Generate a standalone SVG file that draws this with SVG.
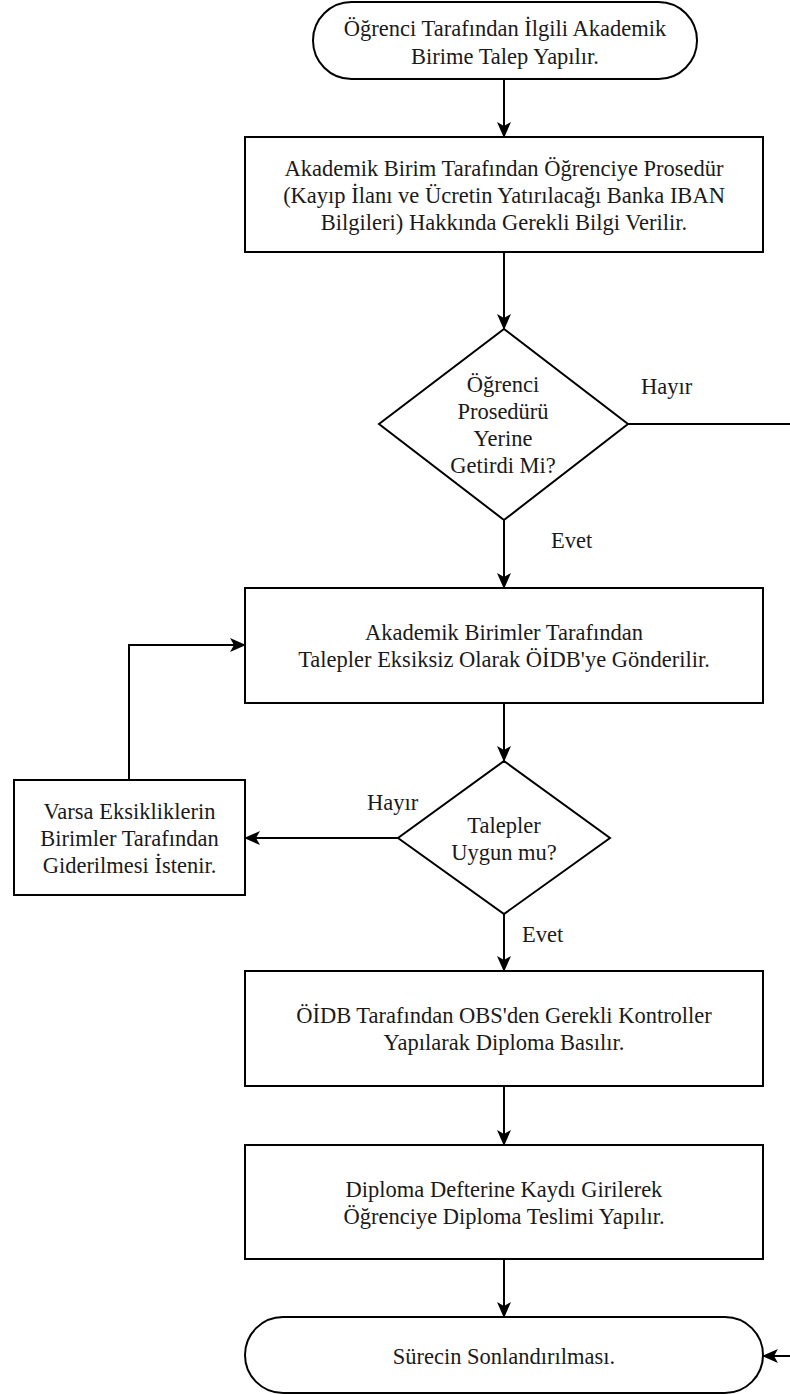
<svg xmlns="http://www.w3.org/2000/svg" width="790" height="1394" viewBox="0 0 790 1394">
<style>
  .shape { fill: #ffffff; stroke: #000000; stroke-width: 2; }
  .conn { fill: none; stroke: #000000; stroke-width: 2; }
  text { font-family: "Liberation Serif", "Times New Roman", serif; font-size: 22.5px; fill: #1a1a1a; }
  .c { text-anchor: middle; }
</style>
<defs>
  <marker id="arr" markerUnits="userSpaceOnUse" markerWidth="16" markerHeight="14" viewBox="0 0 16 14" refX="15" refY="7" orient="auto">
    <path d="M0,0 L16,7 L0,14 L4,7 Z" fill="#000000"/>
  </marker>
</defs>
<rect width="790" height="1394" fill="#ffffff"/>

<g id="connectors">
  <path class="conn" d="M504,79 L504,137" marker-end="url(#arr)"/>
  <path class="conn" d="M504,252 L504,329" marker-end="url(#arr)"/>
  <path class="conn" d="M504,520 L504,588" marker-end="url(#arr)"/>
  <path class="conn" d="M504,703 L504,761" marker-end="url(#arr)"/>
  <path class="conn" d="M398,838 L245,838" marker-end="url(#arr)"/>
  <path class="conn" d="M129,780 L129,645 L245,645" marker-end="url(#arr)"/>
  <path class="conn" d="M504,914 L504,971" marker-end="url(#arr)"/>
  <path class="conn" d="M504,1086 L504,1145" marker-end="url(#arr)"/>
  <path class="conn" d="M504,1259 L504,1317" marker-end="url(#arr)"/>
  <path class="conn" d="M628,424 L796,424 L796,1356 L763,1356" marker-end="url(#arr)"/>
  <text x="641" y="394">Hayır</text>
  <text x="551" y="548">Evet</text>
  <text x="367" y="810">Hayır</text>
  <text x="522" y="942">Evet</text>
</g>

<g id="start">
  <rect class="shape" x="313" y="2" width="384" height="77" rx="38.5" ry="38.5"/>
  <text class="c" x="505" y="36">Öğrenci Tarafından İlgili Akademik</text>
  <text class="c" x="505" y="64">Birime Talep Yapılır.</text>
</g>

<g id="box1">
  <rect class="shape" x="245" y="137" width="518" height="115"/>
  <text class="c" x="504" y="176">Akademik Birim Tarafından Öğrenciye Prosedür</text>
  <text class="c" x="504" y="203">(Kayıp İlanı ve Ücretin Yatırılacağı Banka IBAN</text>
  <text class="c" x="504" y="230">Bilgileri) Hakkında Gerekli Bilgi Verilir.</text>
</g>

<g id="decision1">
  <polygon class="shape" points="504,329 628,424 504,520 379,424"/>
  <text class="c" x="503" y="392">Öğrenci</text>
  <text class="c" x="503" y="419">Prosedürü</text>
  <text class="c" x="503" y="446">Yerine</text>
  <text class="c" x="503" y="473">Getirdi Mi?</text>
</g>

<g id="box2">
  <rect class="shape" x="245" y="588" width="518" height="115"/>
  <text class="c" x="504" y="640">Akademik Birimler Tarafından</text>
  <text class="c" x="504" y="667">Talepler Eksiksiz Olarak ÖİDB'ye Gönderilir.</text>
</g>

<g id="decision2">
  <polygon class="shape" points="504,761 610,838 504,914 398,838"/>
  <text class="c" x="504" y="833">Talepler</text>
  <text class="c" x="504" y="860">Uygun mu?</text>
</g>

<g id="fixbox">
  <rect class="shape" x="14" y="780" width="231" height="115"/>
  <text class="c" x="129.5" y="819">Varsa Eksikliklerin</text>
  <text class="c" x="129.5" y="846">Birimler Tarafından</text>
  <text class="c" x="129.5" y="873">Giderilmesi İstenir.</text>
</g>

<g id="box3">
  <rect class="shape" x="245" y="971" width="518" height="115"/>
  <text class="c" x="504" y="1023">ÖİDB Tarafından OBS'den Gerekli Kontroller</text>
  <text class="c" x="504" y="1050">Yapılarak Diploma Basılır.</text>
</g>

<g id="box4">
  <rect class="shape" x="245" y="1145" width="518" height="114"/>
  <text class="c" x="504" y="1197">Diploma Defterine Kaydı Girilerek</text>
  <text class="c" x="504" y="1224">Öğrenciye Diploma Teslimi Yapılır.</text>
</g>

<g id="end">
  <rect class="shape" x="245" y="1317" width="518" height="76" rx="38" ry="38"/>
  <text class="c" x="504" y="1364">Sürecin Sonlandırılması.</text>
</g>
</svg>
